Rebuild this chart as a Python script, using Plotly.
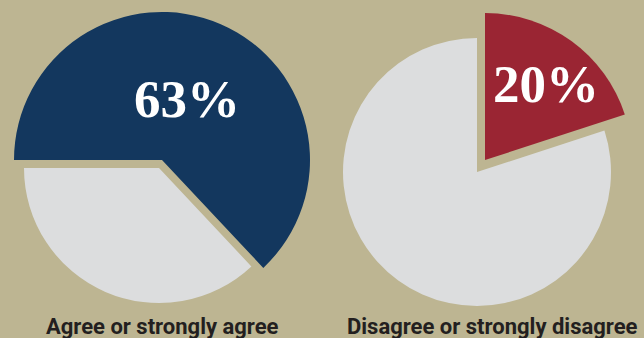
import plotly.graph_objects as go

# ---- data ----
groups = ["Agree or strongly agree", "Disagree or strongly disagree"]
highlight_labels = ["63%", "20%"]
highlight_values = [63, 20]
rest_values = [37, 80]

# ---- style ----
W, H = 644, 338
BG = "#BDB592"
GRAY = "#DCDDDE"
HL_COLORS = ["#13375E", "#9A2533"]
TRANSP = "rgba(0,0,0,0)"

# geometry per pie: (highlight centre, radius), (rest centre, radius), rotation
geom = [
    dict(hl=(162, 160, 148), rest=(159, 168, 135), rot=270,
         pct_pos=(187, 99), lab_pos=(162.5, 326)),
    dict(hl=(485, 160, 147), rest=(477, 172, 134), rot=0,
         pct_pos=(546, 84), lab_pos=(492, 326)),
]


def dom(cx, cy, r):
    return dict(x=[(cx - r) / W, (cx + r) / W],
                y=[(H - cy - r) / H, (H - cy + r) / H])


fig = go.Figure()
annotations = []
for i, g in enumerate(geom):
    vals = [highlight_values[i], rest_values[i]]
    # rest slice (gray)
    fig.add_trace(go.Pie(
        values=vals, labels=["hl", "rest"], sort=False, direction="clockwise",
        rotation=g["rot"], domain=dom(*g["rest"]),
        marker=dict(colors=[TRANSP, GRAY], line=dict(width=0)),
        textinfo="none", hoverinfo="skip", showlegend=False))
    # highlighted slice
    fig.add_trace(go.Pie(
        values=vals, labels=["hl", "rest"], sort=False, direction="clockwise",
        rotation=g["rot"], domain=dom(*g["hl"]),
        marker=dict(colors=[HL_COLORS[i], TRANSP], line=dict(width=0)),
        textinfo="none", hoverinfo="skip", showlegend=False))
    px, py = g["pct_pos"]
    annotations.append(dict(
        text=highlight_labels[i], x=px / W, y=1 - py / H, xref="paper", yref="paper",
        showarrow=False, xanchor="center", yanchor="middle",
        font=dict(family="Liberation Serif, DejaVu Serif, serif", size=53,
                  color="white", weight="bold")))
    lx, ly = g["lab_pos"]
    annotations.append(dict(
        text=groups[i], x=lx / W, y=1 - ly / H, xref="paper", yref="paper",
        showarrow=False, xanchor="center", yanchor="middle",
        font=dict(family="Roboto, sans-serif",
                  size=22, color="#231F20", weight="bold")))

fig.update_layout(
    width=W, height=H, margin=dict(l=0, r=0, t=0, b=0),
    paper_bgcolor=BG, plot_bgcolor=BG, annotations=annotations)

fig.write_html("out.html")
